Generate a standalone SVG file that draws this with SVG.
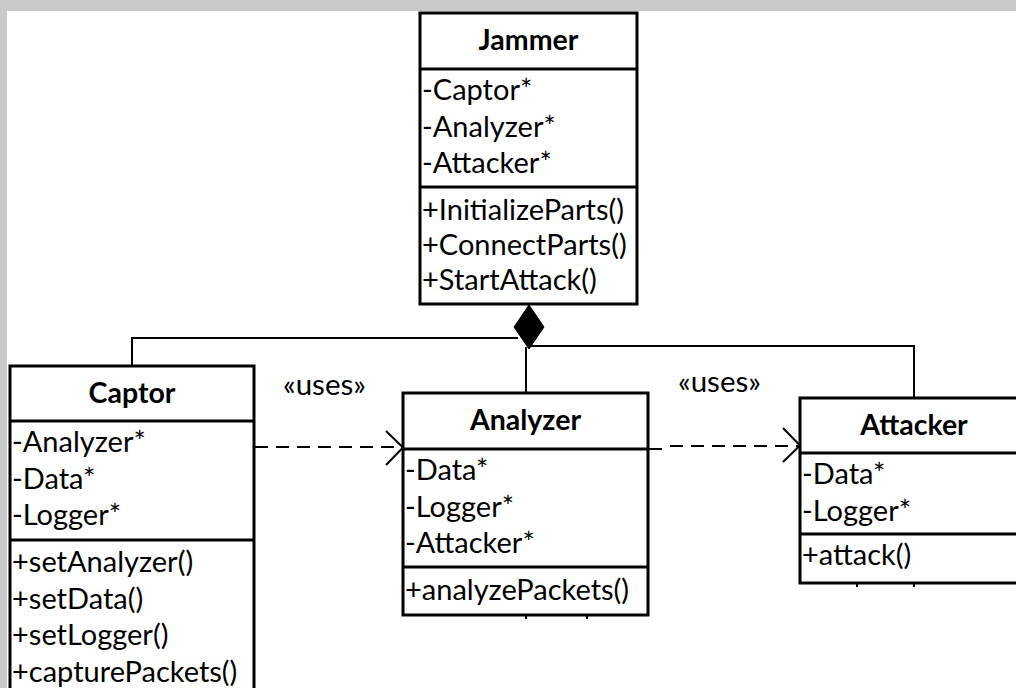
<svg xmlns="http://www.w3.org/2000/svg" width="1016" height="688" viewBox="0 0 1016 688">
  <style>
    .box { fill: #ffffff; stroke: #000000; stroke-width: 3; }
    .sep { stroke: #000000; stroke-width: 3; fill: none; }
    .title { font-family: "Lato", "Liberation Sans", sans-serif; font-weight: bold; font-size: 28.5px; fill: #000000; text-anchor: middle; }
    .item { font-family: "Lato", "Liberation Sans", sans-serif; font-size: 29px; fill: #000000; }
    .conn { stroke: #000000; stroke-width: 2; fill: none; }
    .dash { stroke: #000000; stroke-width: 2; fill: none; stroke-dasharray: 13 8; }
    .head { stroke: #000000; stroke-width: 2; fill: none; }
    .label { font-family: "Lato", "Liberation Sans", sans-serif; font-size: 29.5px; fill: #000000; }
  </style>
  <rect x="0" y="0" width="1016" height="688" fill="#ffffff"/>
  <rect x="0" y="0" width="1016" height="11" fill="#c9c9c9"/>
  <rect x="0" y="0" width="7" height="688" fill="#c9c9c9"/>

  <g id="connectors">
    <polyline class="conn" points="518,338 132,338 132,366"/>
    <line class="conn" x1="526" y1="347" x2="526" y2="393"/>
    <polyline class="conn" points="528,346 914,346 914,398"/>
    <polygon points="529,305 544,327 529,349 514,327" fill="#000000" stroke="#000000" stroke-width="1"/>
    <line class="dash" x1="255" y1="447" x2="401" y2="447"/>
    <polyline class="head" points="386,431 403,447.5 386,465"/>
    <line class="conn" x1="648" y1="449" x2="662" y2="449"/>
    <line class="dash" x1="662" y1="446" x2="798" y2="446" stroke-dashoffset="-8"/>
    <polyline class="head" points="783,428 800,445.5 783,462"/>
    <text class="label" x="283" y="395">«uses»</text>
    <text class="label" x="678" y="392">«uses»</text>
    <line class="conn" x1="526" y1="615" x2="526" y2="619"/>
    <line class="conn" x1="587" y1="615" x2="587" y2="619"/>
    <line class="conn" x1="857" y1="583" x2="857" y2="587"/>
    <line class="conn" x1="914" y1="583" x2="914" y2="587"/>
  </g>

  <g id="jammer">
    <rect class="box" x="420" y="13" width="217" height="291"/>
    <line class="sep" x1="420" y1="69" x2="637" y2="69"/>
    <line class="sep" x1="420" y1="187" x2="637" y2="187"/>
    <text class="title" x="528.5" y="50">Jammer</text>
    <text class="item" x="422" y="100">-Captor*</text>
    <text class="item" x="422" y="136.5">-Analyzer*</text>
    <text class="item" x="422" y="173">-Attacker*</text>
    <text class="item" x="422" y="220">+InitializeParts()</text>
    <text class="item" x="422" y="255">+ConnectParts()</text>
    <text class="item" x="422" y="290">+StartAttack()</text>
  </g>

  <g id="captor">
    <rect class="box" x="10" y="366" width="244" height="340"/>
    <line class="sep" x1="10" y1="421" x2="254" y2="421"/>
    <line class="sep" x1="10" y1="540" x2="254" y2="540"/>
    <text class="title" x="132" y="403">Captor</text>
    <text class="item" x="12" y="452">-Analyzer*</text>
    <text class="item" x="12" y="488.5">-Data*</text>
    <text class="item" x="12" y="525">-Logger*</text>
    <text class="item" x="12" y="572">+setAnalyzer()</text>
    <text class="item" x="12" y="608.5">+setData()</text>
    <text class="item" x="12" y="645">+setLogger()</text>
    <text class="item" x="12" y="681.5">+capturePackets()</text>
  </g>

  <g id="analyzer">
    <rect class="box" x="403" y="393" width="245" height="222"/>
    <line class="sep" x1="403" y1="449" x2="648" y2="449"/>
    <line class="sep" x1="403" y1="567" x2="648" y2="567"/>
    <text class="title" x="525.5" y="430">Analyzer</text>
    <text class="item" x="405" y="480">-Data*</text>
    <text class="item" x="405" y="516.5">-Logger*</text>
    <text class="item" x="405" y="553">-Attacker*</text>
    <text class="item" x="405" y="600">+analyzePackets()</text>
  </g>

  <g id="attacker">
    <rect class="box" x="800" y="398" width="228" height="185"/>
    <line class="sep" x1="800" y1="453" x2="1028" y2="453"/>
    <line class="sep" x1="800" y1="534" x2="1028" y2="534"/>
    <text class="title" x="914" y="435">Attacker</text>
    <text class="item" x="802" y="484">-Data*</text>
    <text class="item" x="802" y="520.5">-Logger*</text>
    <text class="item" x="802" y="565">+attack()</text>
  </g>
</svg>
